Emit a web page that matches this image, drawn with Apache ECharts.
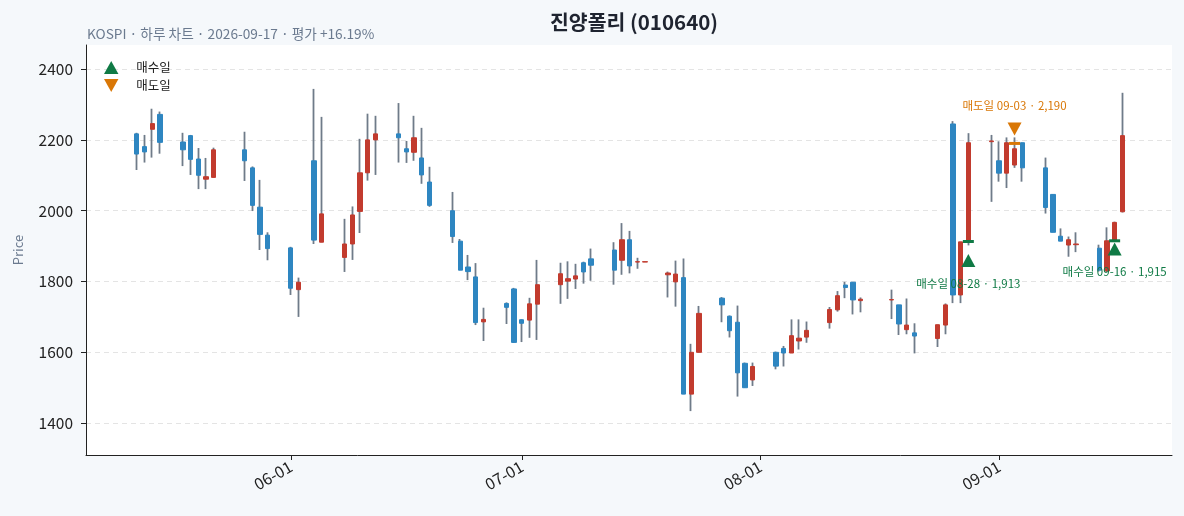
<!DOCTYPE html>
<html>
<head>
<meta charset="utf-8">
<script src="https://cdn.jsdelivr.net/npm/echarts@6/dist/echarts.min.js"></script>
<style>
html, body { margin: 0; padding: 0; background: #f5f8fb; }
#chart { width: 1184px; height: 516px; }
</style>
</head>
<body>
<div id="chart"></div>
<script>
// 일봉 데이터
const dates = [
	'2026-05-12','2026-05-13','2026-05-14','2026-05-15',
	'2026-05-18','2026-05-19','2026-05-20','2026-05-21','2026-05-22',
	'2026-05-26','2026-05-27','2026-05-28','2026-05-29',
	'2026-06-01','2026-06-02','2026-06-04','2026-06-05',
	'2026-06-08','2026-06-09','2026-06-10','2026-06-11','2026-06-12',
	'2026-06-15','2026-06-16','2026-06-17','2026-06-18','2026-06-19',
	'2026-06-22','2026-06-23','2026-06-24','2026-06-25','2026-06-26',
	'2026-06-29','2026-06-30','2026-07-01','2026-07-02','2026-07-03',
	'2026-07-06','2026-07-07','2026-07-08','2026-07-09','2026-07-10',
	'2026-07-13','2026-07-14','2026-07-15','2026-07-16','2026-07-17',
	'2026-07-20','2026-07-21','2026-07-22','2026-07-23','2026-07-24',
	'2026-07-27','2026-07-28','2026-07-29','2026-07-30','2026-07-31',
	'2026-08-03','2026-08-04','2026-08-05','2026-08-06','2026-08-07',
	'2026-08-10','2026-08-11','2026-08-12','2026-08-13','2026-08-14',
	'2026-08-18','2026-08-19','2026-08-20','2026-08-21',
	'2026-08-24','2026-08-25','2026-08-26','2026-08-27','2026-08-28',
	'2026-08-31','2026-09-01','2026-09-02','2026-09-03','2026-09-04',
	'2026-09-07','2026-09-08','2026-09-09','2026-09-10','2026-09-11',
	'2026-09-14','2026-09-15','2026-09-16','2026-09-17'
];
const opens = [
	2217,2181,2230,2272,
	2194,2212,2146,2089,2094,
	2172,2121,2010,1931,
	1895,1777,2141,1911,
	1868,1906,1998,2107,2200,
	2217,2175,2165,2149,2081,
	2000,1914,1841,1813,1686,
	1738,1779,1692,1691,1736,
	1791,1801,1807,1853,1864,
	1889,1860,1918,1855,1855,
	1819,1799,1811,1482,1600,
	1753,1702,1685,1569,1522,
	1600,1611,1598,1632,1643,
	1684,1720,1790,1798,1746,
	1748,1734,1664,1655,
	1639,1677,2245,1762,1913,
	2195,2141,2106,2129,2192,
	2121,2046,1928,1903,1904,
	1894,1830,1913,1997
];
const closes = [
	2160,2166,2246,2193,
	2172,2145,2100,2096,2172,
	2141,2015,1933,1893,
	1781,1798,1917,1991,
	1906,1988,2107,2200,2217,
	2206,2166,2206,2101,2015,
	1927,1832,1828,1684,1693,
	1727,1628,1682,1737,1791,
	1822,1808,1816,1827,1846,
	1832,1918,1844,1856,1856,
	1824,1821,1482,1600,1710,
	1734,1661,1542,1500,1560,
	1561,1598,1647,1640,1662,
	1721,1760,1783,1748,1750,
	1749,1680,1677,1646,
	1678,1734,1762,1912,2192,
	2197,2106,2192,2175,2121,
	2009,1939,1914,1918,1906,
	1832,1915,1967,2212
];
const lows = [
	2115,2136,2150,2161,
	2126,2101,2061,2061,2094,
	2084,1999,1889,1860,
	1762,1700,1906,1911,
	1827,1861,1937,2085,2101,
	2136,2135,2141,2076,2011,
	1909,1832,1804,1677,1632,
	1680,1627,1629,1641,1635,
	1737,1751,1779,1794,1802,
	1791,1819,1823,1836,1855,
	1755,1729,1482,1434,1600,
	1685,1642,1475,1500,1505,
	1552,1560,1598,1608,1627,
	1667,1715,1753,1707,1713,
	1694,1649,1651,1597,
	1615,1651,1739,1739,1902,
	2025,2082,2064,2121,2082,
	1992,1939,1914,1870,1883,
	1828,1826,1913,1995
];
const highs = [
	2220,2214,2288,2280,
	2220,2214,2177,2149,2178,
	2223,2125,2087,1939,
	1898,1811,2344,2265,
	1977,2012,2203,2274,2268,
	2304,2197,2268,2234,2124,
	2053,1920,1875,1852,1726,
	1741,1782,1693,1754,1861,
	1853,1857,1850,1856,1893,
	1911,1965,1943,1867,1856,
	1828,1859,1865,1624,1731,
	1756,1704,1732,1571,1571,
	1602,1618,1693,1693,1687,
	1728,1773,1799,1798,1755,
	1777,1734,1752,1682,
	1678,1738,2253,1912,2219,
	2214,2196,2207,2207,2192,
	2150,2046,1950,1927,1939,
	1904,1953,1969,2333
];

// 매수/매도 표시
const buyDates = ['2026-08-28', '2026-09-16'];
const buyPrices = [1913, 1915];
const buyMarkY = [1859, 1892];
const buyLabelY = [1794, 1827];
const sellDates = ['2026-09-03'];
const sellPrices = [2190];
const sellMarkY = [2231];
const sellLabelY = [2297];

// 축 눈금
const yTicks = [1400, 1600, 1800, 2000, 2200, 2400];
const monthTicks = ['2026-06-01', '2026-07-01', '2026-08-01', '2026-09-01'];

const COLOR_UP = '#c23b2e';
const COLOR_DOWN = '#2e86c1';
const COLOR_WICK = '#6f7b89';
const COLOR_BUY = '#0f7a45';
const COLOR_SELL = '#d97706';
const FONT = "'Noto Sans CJK KR', 'Noto Sans', sans-serif";
const DAY = 24 * 3600 * 1000;

function toTime(s) {
	let p = s.split('-');
	return new Date(+p[0], +p[1] - 1, +p[2]).getTime();
}
function pad(n) { return n < 10 ? '0' + n : '' + n; }
function mmdd(s) { let p = s.split('-'); return p[1] + '-' + p[2]; }

let wickData = [];
let bodyData = [];
for (let i = 0; i < dates.length; i++) {
	let t = toTime(dates[i]);
	wickData.push([t, opens[i], closes[i], lows[i], highs[i]]);
	bodyData.push([t, opens[i], closes[i], Math.min(opens[i], closes[i]), Math.max(opens[i], closes[i])]);
}

let xMin = toTime(dates[0]) - 6.6 * DAY;
let xMax = toTime(dates[dates.length - 1]) + 6.45 * DAY;

let myChart = echarts.init(document.getElementById('chart'));
myChart.setOption({
	animation: false,
	backgroundColor: '#f5f8fb',
	textStyle: { fontFamily: FONT },
	title: [
		{
			text: '진양폴리 (010640)',
			left: 629, top: 7, textAlign: 'center',
			textStyle: { fontSize: 20.5, fontWeight: 'bold', color: '#1f2430', fontFamily: FONT }
		},
		{
			text: 'KOSPI · 하루 차트 · 2026-09-17 · 평가 +16.19%',
			left: 82, top: 22,
			textStyle: { fontSize: 13.7, fontWeight: 'normal', color: '#6b7a8f', fontFamily: FONT }
		}
	],
	legend: {
		orient: 'vertical',
		left: 99, top: 56,
		itemWidth: 40, itemHeight: 13, itemGap: 5,
		textStyle: { fontSize: 12.5, color: '#222', fontFamily: FONT },
		data: [
			{ name: '매수일', icon: 'path://M5,0L10,9L0,9Z' },
			{ name: '매도일', icon: 'path://M0,0L10,0L5,9Z' }
		]
	},
	grid: {
		left: 86, right: 12, top: 45, bottom: 61,
		show: true, backgroundColor: '#ffffff', borderWidth: 0
	},
	xAxis: {
		type: 'value',
		min: xMin, max: xMax,
		axisLine: { show: true, lineStyle: { color: '#222', width: 1 } },
		axisTick: { show: true, length: 5, lineStyle: { color: '#222' }, customValues: monthTicks.map(toTime) },
		axisLabel: {
			customValues: monthTicks.map(toTime),
			rotate: 30, fontSize: 16, color: '#222', margin: 10, fontFamily: FONT,
			formatter: function (v) {
				let d = new Date(v);
				return pad(d.getMonth() + 1) + '-' + pad(d.getDate());
			}
		},
		splitLine: { show: false }
	},
	yAxis: {
		type: 'value',
		min: 1310, max: 2468,
		name: 'Price', nameLocation: 'middle', nameGap: 61,
		nameTextStyle: { color: '#6b7a8f', fontSize: 13, fontFamily: FONT },
		axisLine: { show: true, lineStyle: { color: '#222', width: 1 } },
		axisTick: { show: true, length: 5, lineStyle: { color: '#222' }, customValues: yTicks },
		axisLabel: { customValues: yTicks, fontSize: 15.5, color: '#222', margin: 13, fontFamily: FONT, formatter: function (v) { return String(v); } },
		splitLine: { show: true, lineStyle: { color: '#e4e4e4', type: [5, 4], width: 1 } }
	},
	series: [
		{
			name: 'wick', type: 'candlestick',
			data: wickData,
			encode: { x: 0, y: [1, 2, 3, 4] },
			barWidth: 0.2,
			itemStyle: { color: COLOR_WICK, color0: COLOR_WICK, borderColor: COLOR_WICK, borderColor0: COLOR_WICK, borderWidth: 1.8 },
			z: 2
		},
		{
			name: 'body', type: 'candlestick',
			data: bodyData,
			encode: { x: 0, y: [1, 2, 3, 4] },
			barWidth: 4.8,
			itemStyle: { color: COLOR_UP, color0: COLOR_DOWN, borderColor: COLOR_UP, borderColor0: COLOR_DOWN, borderWidth: 1 },
			z: 3
		},
		{
			name: '매수일', type: 'scatter',
			symbol: 'triangle', symbolSize: [14, 13],
			itemStyle: { color: COLOR_BUY, opacity: 1 },
			data: buyDates.map((d, i) => [toTime(d), buyMarkY[i]]),
			z: 5
		},
		{
			name: '매도일', type: 'scatter',
			symbol: 'triangle', symbolRotate: 180, symbolSize: [14, 13],
			itemStyle: { color: COLOR_SELL, opacity: 1 },
			data: sellDates.map((d, i) => [toTime(d), sellMarkY[i]]),
			z: 5
		},
		{
			name: 'buyPrice', type: 'scatter',
			symbol: 'rect', symbolSize: [11, 3],
			itemStyle: { color: COLOR_BUY, opacity: 1 },
			data: buyDates.map((d, i) => [toTime(d), buyPrices[i]]),
			z: 5
		},
		{
			name: 'sellPrice', type: 'scatter',
			symbol: 'rect', symbolSize: [11, 3],
			itemStyle: { color: COLOR_SELL, opacity: 1 },
			data: sellDates.map((d, i) => [toTime(d), sellPrices[i]]),
			z: 5
		},
		{
			name: 'buyLabel', type: 'scatter',
			symbolSize: 0,
			itemStyle: { opacity: 1 },
			label: {
				show: true, position: 'inside', fontSize: 11.5, color: COLOR_BUY, fontFamily: FONT,
				formatter: function (p) { return '매수일 ' + mmdd(buyDates[p.dataIndex]) + ' · ' + buyPrices[p.dataIndex].toLocaleString('en-US'); }
			},
			data: buyDates.map((d, i) => [toTime(d), buyLabelY[i]]),
			z: 6
		},
		{
			name: 'sellLabel', type: 'scatter',
			symbolSize: 0,
			itemStyle: { opacity: 1 },
			label: {
				show: true, position: 'inside', fontSize: 11.5, color: COLOR_SELL, fontFamily: FONT,
				formatter: function (p) { return '매도일 ' + mmdd(sellDates[p.dataIndex]) + ' · ' + sellPrices[p.dataIndex].toLocaleString('en-US'); }
			},
			data: sellDates.map((d, i) => [toTime(d), sellLabelY[i]]),
			z: 6
		}
	]
});
</script>
</body>
</html>
